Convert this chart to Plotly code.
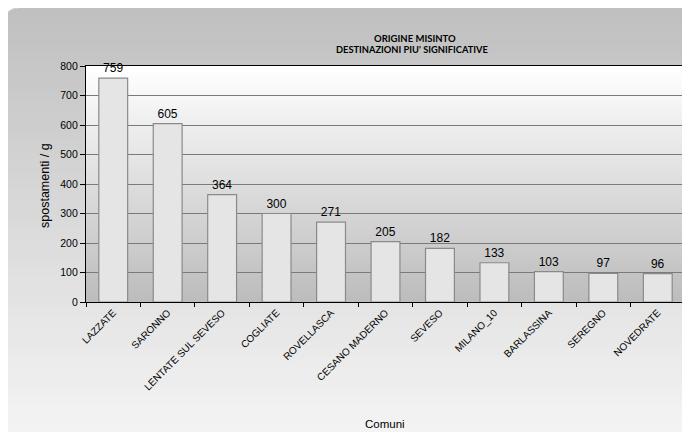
import base64
import struct
import zlib
import plotly.graph_objects as go

# ---------------- data ----------------
comuni = ["LAZZATE", "SARONNO", "LENTATE SUL SEVESO", "COGLIATE", "ROVELLASCA",
          "CESANO MADERNO", "SEVESO", "MILANO_10", "BARLASSINA", "SEREGNO", "NOVEDRATE"]
spostamenti = [759, 605, 364, 300, 271, 205, 182, 133, 103, 97, 96]
y_ticks = [0, 100, 200, 300, 400, 500, 600, 700, 800]

title_line1 = "ORIGINE MISINTO"
title_line2 = "DESTINAZIONI PIU' SIGNIFICATIVE"
x_title = "Comuni"
y_title = "spostamenti / g"

# ---------------- layout geometry (screen px, page has an 8px body margin) ----------------
OFF = 8
W, H = 690 - OFF, 432 - OFF
ML = 86 - OFF
MT = 66 - OFF
MR = W - (685 - OFF)
MB = H - (302 - OFF)
PW, PH = W - ML - MR, H - MT - MB


def px_x(sx):
    return (sx - OFF - ML) / PW


def px_y(sy):
    return (H - MB - (sy - OFF)) / PH


def gradient_png(top, bottom, n=64):
    rows = []
    for i in range(n):
        t = i / (n - 1)
        rgb = bytes(int(round(a + (b - a) * t)) for a, b in zip(top, bottom))
        rows.append(b"\x00" + rgb)
    raw = b"".join(rows)

    def chunk(tag, data):
        c = struct.pack(">I", len(data)) + tag + data
        return c + struct.pack(">I", zlib.crc32(tag + data) & 0xFFFFFFFF)

    png = b"\x89PNG\r\n\x1a\n"
    png += chunk(b"IHDR", struct.pack(">IIBBBBB", 1, n, 8, 2, 0, 0, 0))
    png += chunk(b"IDAT", zlib.compress(raw, 9))
    png += chunk(b"IEND", b"")
    return "data:image/png;base64," + base64.b64encode(png).decode()


outer_grad = gradient_png((192, 192, 192), (245, 245, 245))
plot_grad = gradient_png((255, 255, 255), (189, 189, 189))

fig = go.Figure()
fig.add_trace(go.Bar(
    x=comuni,
    y=spostamenti,
    width=0.53,
    marker=dict(color="#e5e5e5", line=dict(color="#8a8a8a", width=1.2)),
    text=[str(v) for v in spostamenti],
    textposition="outside",
    textfont=dict(family="Liberation Sans, Arial, sans-serif", size=12, color="#000000"),
    cliponaxis=False,
    hoverinfo="x+y",
))

images = [
    dict(source=outer_grad, xref="paper", yref="paper",
         x=px_x(0), y=px_y(8), sizex=px_x(700) - px_x(0), sizey=px_y(8) - px_y(440),
         xanchor="left", yanchor="top", sizing="stretch", layer="below"),
    dict(source=plot_grad, xref="x domain", yref="y domain",
         x=0, y=1, sizex=1, sizey=1,
         xanchor="left", yanchor="top", sizing="stretch", layer="below"),
]

r = 14
x0, y0 = 5, 8
shapes = [
    # rounded top-left corner mask
    dict(type="path", xref="paper", yref="paper",
         path=(f"M {px_x(x0 - 1)},{px_y(y0 - 1)} L {px_x(x0 + r)},{px_y(y0 - 1)} "
               f"L {px_x(x0 + r)},{px_y(y0)} Q {px_x(x0)},{px_y(y0)} {px_x(x0)},{px_y(y0 + r)} "
               f"L {px_x(x0 - 1)},{px_y(y0 + r)} Z"),
         fillcolor="#ffffff", line=dict(width=0), layer="below"),
    dict(type="path", xref="paper", yref="paper",
         path=(f"M {px_x(x0 + r)},{px_y(y0)} Q {px_x(x0)},{px_y(y0)} {px_x(x0)},{px_y(y0 + r)}"),
         line=dict(color="#d0d0d0", width=1), layer="below"),
    # right border of plot area (dark grey in the reference)
    dict(type="line", xref="paper", yref="paper", x0=1, x1=1, y0=0, y1=1,
         line=dict(color="#555555", width=1.2), layer="above"),
]

annotations = [
    dict(text=f"<b>{title_line1}</b>", xref="paper", yref="paper",
         x=px_x(415), y=px_y(38), xanchor="center", yanchor="middle", showarrow=False,
         font=dict(family="Lato, Open Sans, sans-serif", size=9.5, color="#000000")),
    dict(text=f"<b>{title_line2}</b>", xref="paper", yref="paper",
         x=px_x(412), y=px_y(50), xanchor="center", yanchor="middle", showarrow=False,
         font=dict(family="Lato, Open Sans, sans-serif", size=9.3, color="#000000")),
    dict(text=x_title, xref="paper", yref="paper",
         x=px_x(385), y=px_y(424), xanchor="center", yanchor="middle", showarrow=False,
         font=dict(family="Liberation Sans, Arial, sans-serif", size=11.5, color="#000000")),
    dict(text=y_title, xref="paper", yref="paper", textangle=-90,
         x=px_x(45), y=px_y(186), xanchor="center", yanchor="middle", showarrow=False,
         font=dict(family="Liberation Sans, Arial, sans-serif", size=12.5, color="#000000")),
]

fig.update_layout(
    width=W, height=H,
    margin=dict(l=ML, r=MR, t=MT, b=MB, autoexpand=False),
    paper_bgcolor="#ffffff",
    plot_bgcolor="rgba(0,0,0,0)",
    showlegend=False,
    images=images,
    shapes=shapes,
    annotations=annotations,
    font=dict(family="Liberation Sans, Arial, sans-serif", size=10, color="#000000"),
)

fig.update_xaxes(
    type="category",
    tickangle=-45,
    tickfont=dict(family="Liberation Sans, Arial, sans-serif", size=10, color="#000000"),
    ticks="outside", tickson="boundaries", ticklen=4, tickcolor="#000000",
    showline=True, linecolor="#000000", linewidth=1.2, mirror=True,
    showgrid=False,
)
fig.update_yaxes(
    range=[0, 800],
    tickvals=y_ticks,
    tickfont=dict(family="Liberation Sans, Arial, sans-serif", size=10.5, color="#000000"),
    ticks="outside", ticklen=5, tickcolor="#000000",
    showline=True, linecolor="#000000", linewidth=1.2, mirror="ticks" if False else True,
    showgrid=True, gridcolor="#7a7a7a", gridwidth=1,
    zeroline=False,
)

fig.write_html("out.html")
